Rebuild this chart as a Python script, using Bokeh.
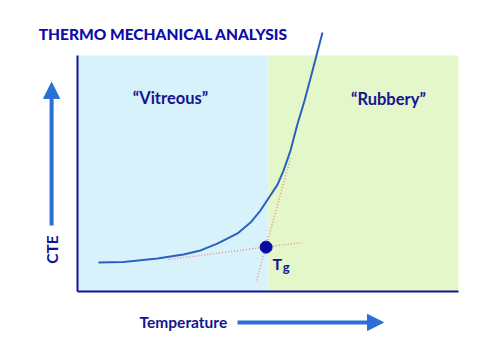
from bokeh.plotting import figure
from bokeh.models import Range1d, Arrow, NormalHead
from bokeh.core.properties import value
from bokeh.embed import file_html
from bokeh.resources import INLINE

# --- data (schematic TMA curve) ---
temperature = [5.5, 12.1, 21.0, 27.8, 32.3, 36.7, 42.0, 45.4, 48.0, 50.1, 52.5, 54.1, 55.9, 57.7, 59.6, 61.9, 64.3]
cte = [12.3, 12.5, 14.0, 15.7, 17.4, 20.3, 24.6, 29.2, 34.3, 39.4, 45.3, 51.3, 59.7, 70.8, 80.9, 94.9, 109.7]
tg_point = (49.5, 18.8)
glassy_tangent_x = [23.9, 59.1]
glassy_tangent_y = [13.6, 20.8]
rubbery_tangent_x = [47.0, 55.9]
rubbery_tangent_y = [4.7, 56.4]
regions = ["“Vitreous”", "“Rubbery”"]
region_left = [0, 50.1]
region_right = [50.1, 100]
region_colors = ["#d8f2fc", "#e3f7cb"]

NAVY = "#14148f"
FONT = value("'Lato Black', 'Lato Heavy', Lato")
FONT2 = value("Lato")

p = figure(width=484, height=344, output_backend="svg", toolbar_location=None,
           x_axis_type=None, y_axis_type=None, min_border=0,
           x_range=Range1d(-20.21, 106.82), y_range=Range1d(-22.46, 123.31))
p.outline_line_color = None
p.grid.visible = False
p.background_fill_color = "white"

# background regions
p.quad(left=region_left, right=region_right, bottom=0, top=100,
       fill_color=region_colors, line_color=None)

# axes lines
p.segment(x0=[0, 0], y0=[0, 0], x1=[0, 100], y1=[100, 0], line_color=NAVY, line_width=2)

# tangents
p.line(glassy_tangent_x, glassy_tangent_y, line_color="#ea8f86", line_width=1.5, line_dash="1 2")
p.line(rubbery_tangent_x, rubbery_tangent_y, line_color="#ea8f86", line_width=1.5, line_dash="1 2")

# curve
p.line(temperature, cte, line_color="#2c60c0", line_width=2, line_join="round")

# Tg point
p.scatter([tg_point[0]], [tg_point[1]], size=12, fill_color="#0a0a9e", line_color="#0a0a9e")

# region labels
p.text(x=[24.4, 81.6], y=[81.8, 81.4], text=regions, text_align="center", text_baseline="middle",
       text_font=FONT2, text_font_style="bold", text_font_size="16.5px", text_color=NAVY)

# Tg label
p.text(x=[51.2], y=[11.9], text=["T"], text_font=FONT2, text_font_style="bold",
       text_font_size="16px", text_color=NAVY, text_baseline="alphabetic")
p.text(x=[53.9], y=[10.4], text=["g"], text_font=FONT2, text_font_style="bold",
       text_font_size="13px", text_color=NAVY, text_baseline="alphabetic")

# title
p.text(x=[-10.2], y=[109.3], text=["THERMO MECHANICAL ANALYSIS"], text_baseline="middle",
       text_font=FONT, text_font_style="bold", text_font_size="15.5px", text_color="#0c0ca8")

# axis titles
p.text(x=[16.3], y=[-13.1], text=["Temperature"], text_baseline="middle",
       text_font=FONT2, text_font_style="bold", text_font_size="15.5px", text_color=NAVY)
p.text(x=[-6.8], y=[17.8], text=["CTE"], text_baseline="middle", text_align="center", angle=1.5708,
       text_font=FONT2, text_font_style="bold", text_font_size="15.5px", text_color=NAVY)

ARROW = "#2a6fd8"
p.add_layout(Arrow(end=NormalHead(size=16, fill_color=ARROW, line_color=ARROW),
                   x_start=42.0, y_start=-13.1, x_end=80.3, y_end=-13.1,
                   line_color=ARROW, line_width=4))
p.add_layout(Arrow(end=NormalHead(size=16, fill_color=ARROW, line_color=ARROW),
                   x_start=-6.8, y_start=28.0, x_end=-6.8, y_end=88.6,
                   line_color=ARROW, line_width=4))

open("out.html", "w").write(file_html(p, INLINE))
